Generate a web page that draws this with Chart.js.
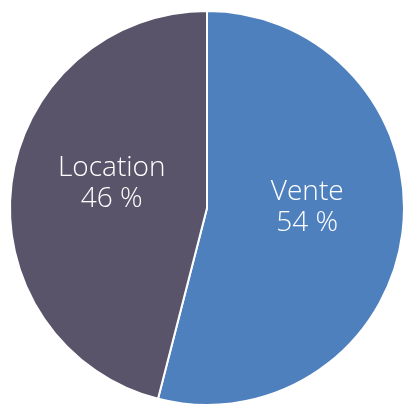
<!DOCTYPE html>
<html>
<head>
<meta charset="utf-8">
<script src="https://cdn.jsdelivr.net/npm/chart.js@4/dist/chart.umd.min.js"></script>
<style>
  html, body { margin: 0; padding: 0; background: #fff; }
  #wrap { width: 407px; height: 407px; }
</style>
</head>
<body>
<div id="wrap"><canvas id="pie"></canvas></div>
<script>
const labels = ['Vente', 'Location'];
const shares = [54, 46];
const colors = ['#4f80be', '#59546a'];

// draws "label / value %" inside each slice
const sliceLabels = {
  id: 'sliceLabels',
  afterDatasetsDraw(chart) {
    const ctx = chart.ctx;
    const meta = chart.getDatasetMeta(0);
    ctx.save();
    ctx.fillStyle = '#ffffff';
    ctx.font = '300 28px "Open Sans", sans-serif';
    ctx.textAlign = 'center';
    ctx.textBaseline = 'middle';
    meta.data.forEach((arc, i) => {
      const p = arc.tooltipPosition();
      const x = p.x + 2.5;
      const y = p.y - 13;
      ctx.fillText(labels[i], x, y - 15);
      ctx.fillText(shares[i] + ' %', x, y + 16);
    });
    ctx.restore();
  }
};

new Chart(document.getElementById('pie'), {
  type: 'pie',
  data: {
    labels,
    datasets: [{
      data: shares,
      backgroundColor: colors,
      borderColor: '#ffffff',
      borderWidth: 2
    }]
  },
  options: {
    responsive: true,
    maintainAspectRatio: false,
    animation: false,
    layout: { padding: { left: 9, right: 2, top: 10, bottom: 1 } },
    plugins: {
      legend: { display: false },
      tooltip: { enabled: false }
    }
  },
  plugins: [sliceLabels]
});
</script>
</body>
</html>
